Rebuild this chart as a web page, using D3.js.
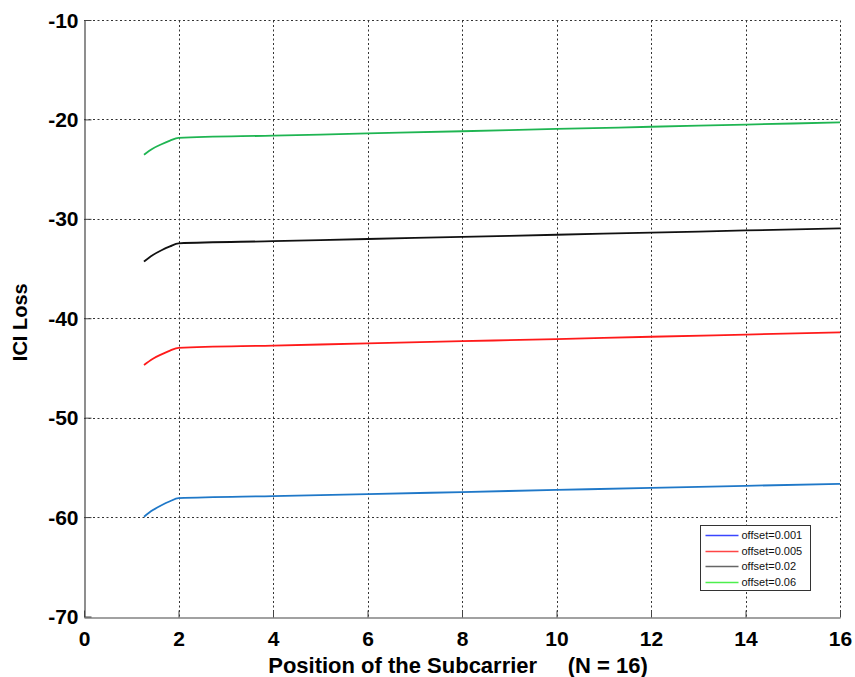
<!DOCTYPE html>
<html>
<head>
<meta charset="utf-8">
<script src="https://cdn.jsdelivr.net/npm/d3@7"></script>
<style>
  html, body { margin: 0; padding: 0; background: #fff; }
  svg { display: block; font-family: "Liberation Sans", Arial, Helvetica, sans-serif; }
</style>
</head>
<body>
<svg id="chart" width="855" height="677"></svg>
<script>
// Subcarrier positions and ICI loss (dB) per frequency offset
const positions = [1.27, 1.45, 1.64, 1.82, 2, 4, 6, 8, 10, 12, 14, 16];
const loss001 = [-59.97, -59.32, -58.81, -58.41, -58.10, -57.89, -57.69, -57.48, -57.27, -57.06, -56.86, -56.65];
const loss005 = [-44.70, -44.09, -43.63, -43.26, -42.97, -42.75, -42.53, -42.31, -42.09, -41.86, -41.64, -41.42];
const loss02  = [-34.30, -33.66, -33.16, -32.77, -32.46, -32.25, -32.03, -31.82, -31.60, -31.39, -31.17, -30.96];
const loss06  = [-23.55, -22.95, -22.50, -22.14, -21.85, -21.63, -21.41, -21.19, -20.96, -20.74, -20.52, -20.30];

const seriesNames = ["offset=0.001", "offset=0.005", "offset=0.02", "offset=0.06"];
const xTicks = [0, 2, 4, 6, 8, 10, 12, 14, 16];
const yTicks = [-70, -60, -50, -40, -30, -20, -10];

const lineColors = ["#1f78c8", "#ff1a1a", "#111111", "#1fb552"];
const legendColors = ["#3a46ff", "#ff4646", "#666666", "#4cef4c"];

const series = [loss001, loss005, loss02, loss06].map((vals, i) => ({
  name: seriesNames[i],
  points: positions.map((p, j) => ({ x: p, y: vals[j] })),
  color: lineColors[i],
  legendColor: legendColors[i]
}));

const svg = d3.select("#chart");
const margin = { left: 84, top: 20, right: 15, bottom: 60.5 };
const W = 855, H = 677;
const x = d3.scaleLinear().domain([0, 16]).range([margin.left, W - margin.right]);
const y = d3.scaleLinear().domain([-70, -10]).range([H - margin.bottom, margin.top]);

// dotted grid
const grid = svg.append("g").attr("stroke", "#333").attr("stroke-width", 1).attr("stroke-dasharray", "2,2.5");
grid.selectAll("line.v").data(xTicks.filter(d => d > 0)).join("line")
  .attr("x1", d => Math.round(x(d)) + 0.5).attr("x2", d => Math.round(x(d)) + 0.5)
  .attr("y1", y(-70)).attr("y2", y(-10));
grid.selectAll("line.h").data(yTicks.filter(d => d > -70)).join("line")
  .attr("y1", d => Math.round(y(d)) + 0.5).attr("y2", d => Math.round(y(d)) + 0.5)
  .attr("x1", x(0)).attr("x2", x(16));

// axes with inward ticks; plain hyphen for negatives
const fmt = d => String(d);
const xAxis = d3.axisBottom(x).tickValues(xTicks).tickFormat(fmt).tickSizeInner(-7).tickSizeOuter(0).tickPadding(14);
const yAxis = d3.axisLeft(y).tickValues(yTicks).tickFormat(fmt).tickSizeInner(-7).tickSizeOuter(0).tickPadding(6);

const gx = svg.append("g").attr("transform", `translate(0,${Math.round(y(-70)) + 0.5})`).call(xAxis);
const gy = svg.append("g").attr("transform", `translate(${Math.round(x(0)) + 0.5},0)`).call(yAxis);
[gx, gy].forEach(g => {
  g.select(".domain").attr("stroke", "#444").attr("stroke-width", 1.2);
  g.selectAll(".tick line").attr("stroke", "#444");
  g.selectAll(".tick text").attr("fill", "#000").attr("font-size", 21).attr("font-weight", "bold")
    .attr("font-family", "Liberation Sans, Arial, sans-serif");
});
gy.selectAll(".tick text").attr("dy", "0.34em");

// curves
const line = d3.line().x(d => x(d.x)).y(d => y(d.y)).curve(d3.curveMonotoneX);
svg.append("g").selectAll("path").data(series).join("path")
  .attr("d", d => line(d.points))
  .attr("fill", "none")
  .attr("stroke", d => d.color)
  .attr("stroke-width", 1.8);

// axis titles
svg.append("text")
  .attr("transform", `translate(27,${(y(-10) + y(-70)) / 2 + 4}) rotate(-90)`)
  .attr("text-anchor", "middle")
  .attr("font-size", 20).attr("font-weight", "bold")
  .text("ICI Loss");
svg.append("text")
  .attr("x", 458).attr("y", 673)
  .attr("text-anchor", "middle")
  .attr("font-size", 22).attr("font-weight", "bold")
  .attr("xml:space", "preserve")
  .style("white-space", "pre")
  .text("Position of the Subcarrier     (N = 16)");

// legend
const leg = svg.append("g").attr("transform", "translate(700.5,525.5)");
leg.append("rect").attr("width", 110).attr("height", 65)
  .attr("fill", "#fff").attr("stroke", "#333").attr("stroke-width", 1);
const rows = leg.selectAll("g.row").data(series).join("g")
  .attr("transform", (d, i) => `translate(0,${10 + Math.round(i * 15.5)})`);
rows.append("line").attr("x1", 5).attr("x2", 38).attr("y1", 0).attr("y2", 0)
  .attr("stroke", d => d.legendColor).attr("stroke-width", 1.5);
rows.append("text").attr("x", 41).attr("y", 0).attr("dy", "0.35em")
  .attr("font-size", 11).attr("fill", "#111")
  .text(d => d.name);
</script>
</body>
</html>
